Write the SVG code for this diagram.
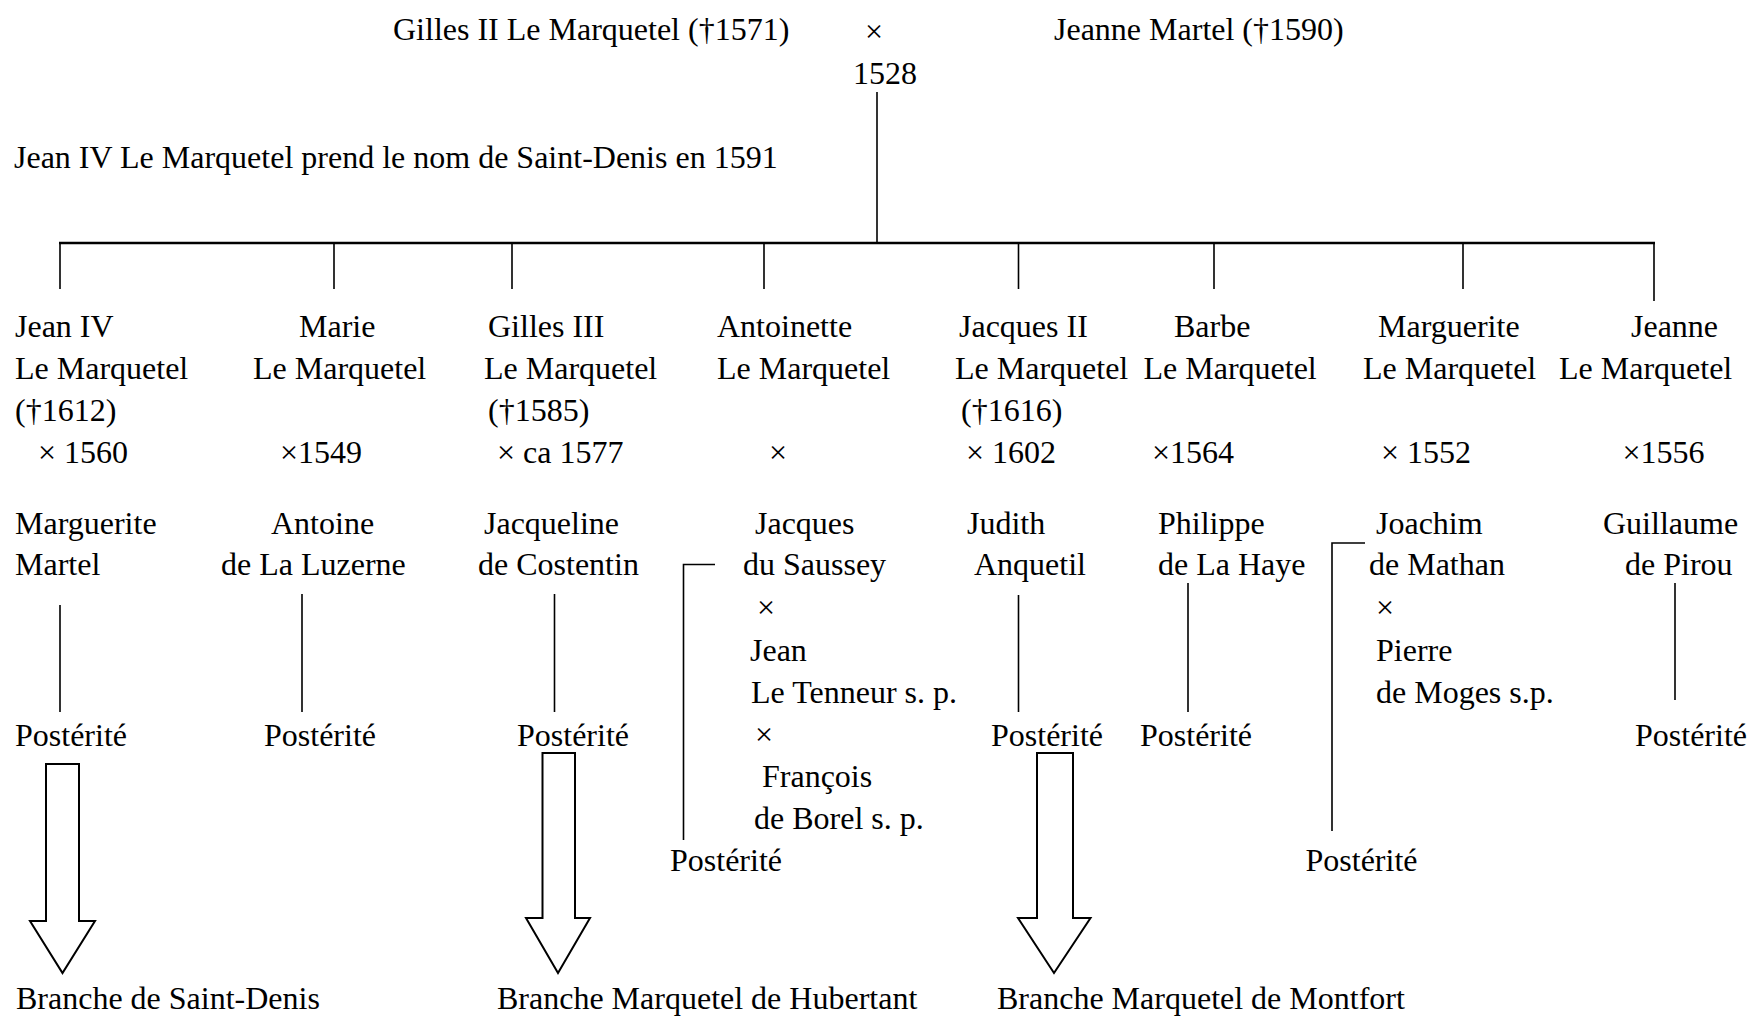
<svg xmlns="http://www.w3.org/2000/svg" width="1751" height="1016" viewBox="0 0 1751 1016">
<style>
text{font-family:"Liberation Serif","Times New Roman",serif;font-size:32px;fill:#000}
.ln{stroke:#000;stroke-width:1.6;fill:none}
.bar{stroke:#000;stroke-width:2.4;fill:none}
.arr{stroke:#000;stroke-width:2;fill:#fff;stroke-linejoin:miter}
</style>
<rect width="1751" height="1016" fill="#fff"/>
<g id="connectors">
<path class="ln" d="M877,92V243"/>
<path class="bar" d="M59,243H1655"/>
<path class="ln" d="M60,243V289M334,243V289M512,243V289M764,243V289M1018.5,243V289M1214,243V289M1463,243V289M1654,243V301"/>
<path class="ln" d="M60,605V712M302,594V712M554.5,594V712M1018.5,595V712M1188,583V712M1675,583V700"/>
<path class="ln" d="M715,564.5H683.5V840"/>
<path class="ln" d="M1365,543H1332V831"/>
<path class="arr" d="M46,764H79V921H95L62.5,973L30,921H46Z"/>
<path class="arr" d="M542.5,753H575V918H590L558,973L526,918H542.5Z"/>
<path class="arr" d="M1037,753H1073V918H1090.5L1054,973L1018,918H1037Z"/>
</g>
<g id="parents">
<text x="393" y="40">Gilles II Le Marquetel (†1571)</text>
<text x="865" y="42">×</text>
<text x="853" y="84">1528</text>
<text x="1054" y="40">Jeanne Martel (†1590)</text>
</g>
<g id="note">
<text x="14" y="168">Jean IV Le Marquetel prend le nom de Saint-Denis en 1591</text>
</g>
<g id="jean-iv">
<text x="15" y="337">Jean IV</text>
<text x="15" y="379">Le Marquetel</text>
<text x="15" y="421">(†1612)</text>
<text x="38" y="463">× 1560</text>
<text x="15" y="534">Marguerite</text>
<text x="15" y="575">Martel</text>
<text x="15" y="746">Postérité</text>
</g>
<g id="marie">
<text x="299" y="337">Marie</text>
<text x="253" y="379">Le Marquetel</text>
<text x="280" y="463">×1549</text>
<text x="271" y="534">Antoine</text>
<text x="221" y="575">de La Luzerne</text>
<text x="264" y="746">Postérité</text>
</g>
<g id="gilles-iii">
<text x="488" y="337">Gilles III</text>
<text x="484" y="379">Le Marquetel</text>
<text x="488" y="421">(†1585)</text>
<text x="497" y="463">× ca 1577</text>
<text x="484" y="534">Jacqueline</text>
<text x="478" y="575">de Costentin</text>
<text x="517" y="746">Postérité</text>
</g>
<g id="antoinette">
<text x="717" y="337">Antoinette</text>
<text x="717" y="379">Le Marquetel</text>
<text x="769" y="463">×</text>
<text x="755" y="534">Jacques</text>
<text x="743" y="575">du Saussey</text>
<text x="757" y="618">×</text>
<text x="750" y="661">Jean</text>
<text x="751" y="703">Le Tenneur s. p.</text>
<text x="755" y="745">×</text>
<text x="762" y="787">François</text>
<text x="754" y="829">de Borel s. p.</text>
<text x="670" y="871">Postérité</text>
</g>
<g id="jacques-ii">
<text x="959" y="337">Jacques II</text>
<text x="955" y="379">Le Marquetel</text>
<text x="961" y="421">(†1616)</text>
<text x="966" y="463">× 1602</text>
<text x="967" y="534">Judith</text>
<text x="974" y="575">Anquetil</text>
<text x="991" y="746">Postérité</text>
</g>
<g id="barbe">
<text x="1174" y="337">Barbe</text>
<text x="1143.5" y="379">Le Marquetel</text>
<text x="1152" y="463">×1564</text>
<text x="1158" y="534">Philippe</text>
<text x="1158" y="575">de La Haye</text>
<text x="1140" y="746">Postérité</text>
</g>
<g id="marguerite">
<text x="1378" y="337">Marguerite</text>
<text x="1363" y="379">Le Marquetel</text>
<text x="1381" y="463">× 1552</text>
<text x="1376" y="534">Joachim</text>
<text x="1369" y="575">de Mathan</text>
<text x="1376" y="618">×</text>
<text x="1376" y="661">Pierre</text>
<text x="1376" y="703">de Moges s.p.</text>
<text x="1305.5" y="871">Postérité</text>
</g>
<g id="jeanne">
<text x="1631" y="337">Jeanne</text>
<text x="1559" y="379">Le Marquetel</text>
<text x="1622.5" y="463">×1556</text>
<text x="1603" y="534">Guillaume</text>
<text x="1625" y="575">de Pirou</text>
<text x="1635" y="746">Postérité</text>
</g>
<g id="branches">
<text x="16" y="1009">Branche de Saint-Denis</text>
<text x="497" y="1009">Branche Marquetel de Hubertant</text>
<text x="997" y="1009">Branche Marquetel de Montfort</text>
</g>
</svg>
